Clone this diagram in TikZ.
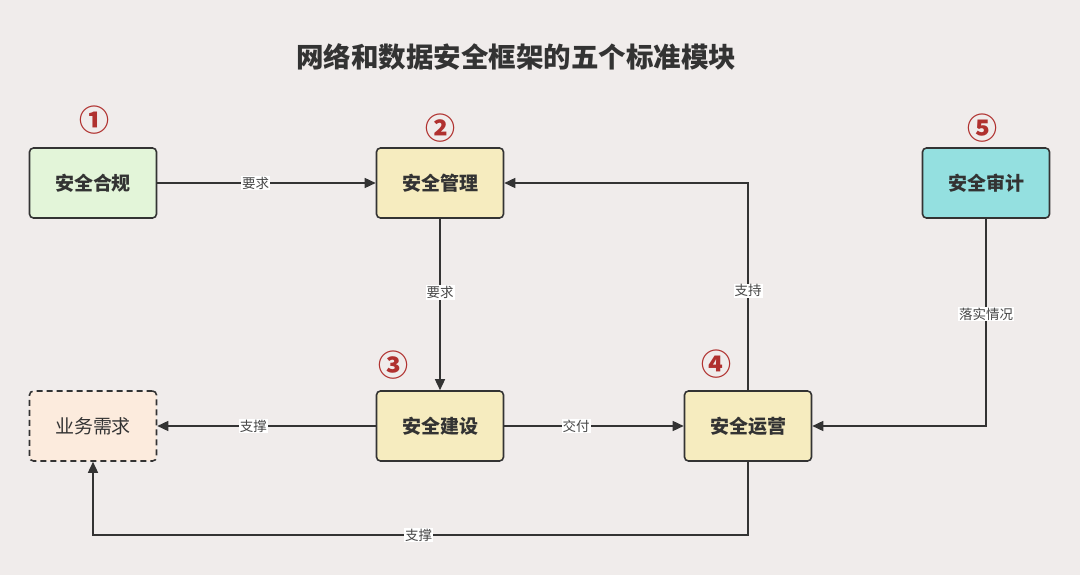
\documentclass[tikz,border=0pt]{standalone}
\usepackage{fontspec}
\setmainfont{Noto Sans CJK SC}
\newfontfamily\cjk{Noto Sans CJK SC}
\usetikzlibrary{arrows.meta}
\definecolor{bg}{HTML}{F0ECEB}
\definecolor{ink}{HTML}{333333}
\definecolor{numred}{HTML}{B0312F}
\definecolor{fgreen}{HTML}{E3F5D9}
\definecolor{fyellow}{HTML}{F6ECBF}
\definecolor{fcyan}{HTML}{94E0E0}
\definecolor{fpeach}{HTML}{FCEBDD}
\tikzset{
  box/.style={draw=ink, line width=1.6pt, rounded corners=4pt, minimum width=127pt, minimum height=70pt, inner sep=0pt, text=ink, font=\cjk\bfseries\fontsize{19}{22}\selectfont},
  conn/.style={draw=ink, line width=1.5pt, -{Triangle[length=11pt,width=10pt]}},
  lbl/.style={fill=white, inner sep=1pt, text=ink!90, font=\cjk\fontsize{13.5}{15}\selectfont},
  num/.style={text=numred, font=\cjk\bfseries\fontsize{30}{32}\selectfont, inner sep=0pt}
}
\begin{document}
\begin{tikzpicture}[x=1pt,y=-1pt]
\fill[bg] (0,0) rectangle (1080,575);
\useasboundingbox (0,0) rectangle (1080,575);
\node[text=ink, font=\cjk\bfseries\fontsize{27.5}{30}\selectfont] (title) at (516,57) {网络和数据安全框架的五个标准模块};

\node[box, fill=fgreen] (hg) at (93,183) {安全合规};
\node[box, fill=fyellow] (gl) at (440,183) {安全管理};
\node[box, fill=fcyan] (sj) at (986,183) {安全审计};
\node[box, fill=fpeach, dashed, dash pattern=on 6pt off 4pt, font=\cjk\fontsize{19}{22}\selectfont] (yw) at (93,426) {业务需求};
\node[box, fill=fyellow] (js) at (440,426) {安全建设};
\node[box, fill=fyellow] (yy) at (748,426) {安全运营};

\node[num] (n1) at (94,120) {①};
\node[num] (n2) at (440,128) {②};
\node[num] (n3) at (393,365) {③};
\node[num] (n4) at (716,364) {④};
\node[num] (n5) at (982,128) {⑤};

\draw[conn] (hg) -- node[lbl, pos=0.45] {要求} (gl);
\draw[conn] (gl) -- node[lbl, pos=0.43] {要求} (js);
\draw[conn] (js) -- node[lbl, pos=0.56] {支撑} (yw);
\draw[conn] (js) -- node[lbl, pos=0.4] {交付} (yy);

\coordinate (c1) at (748,183);
\draw[conn] (yy.north) -- node[lbl, pos=0.48] {支持} (c1) -- (gl.east);
\coordinate (c2) at (986,426);
\draw[conn] (sj.south) -- node[lbl, pos=0.46] {落实情况} (c2) -- (yy.east);
\coordinate (c3) at (748,535);
\coordinate (c4) at (93,535);
\draw[conn] (yy.south) -- (c3) -- node[lbl, pos=0.503] {支撑} (c4) -- (yw.south);
\end{tikzpicture}
\end{document}
